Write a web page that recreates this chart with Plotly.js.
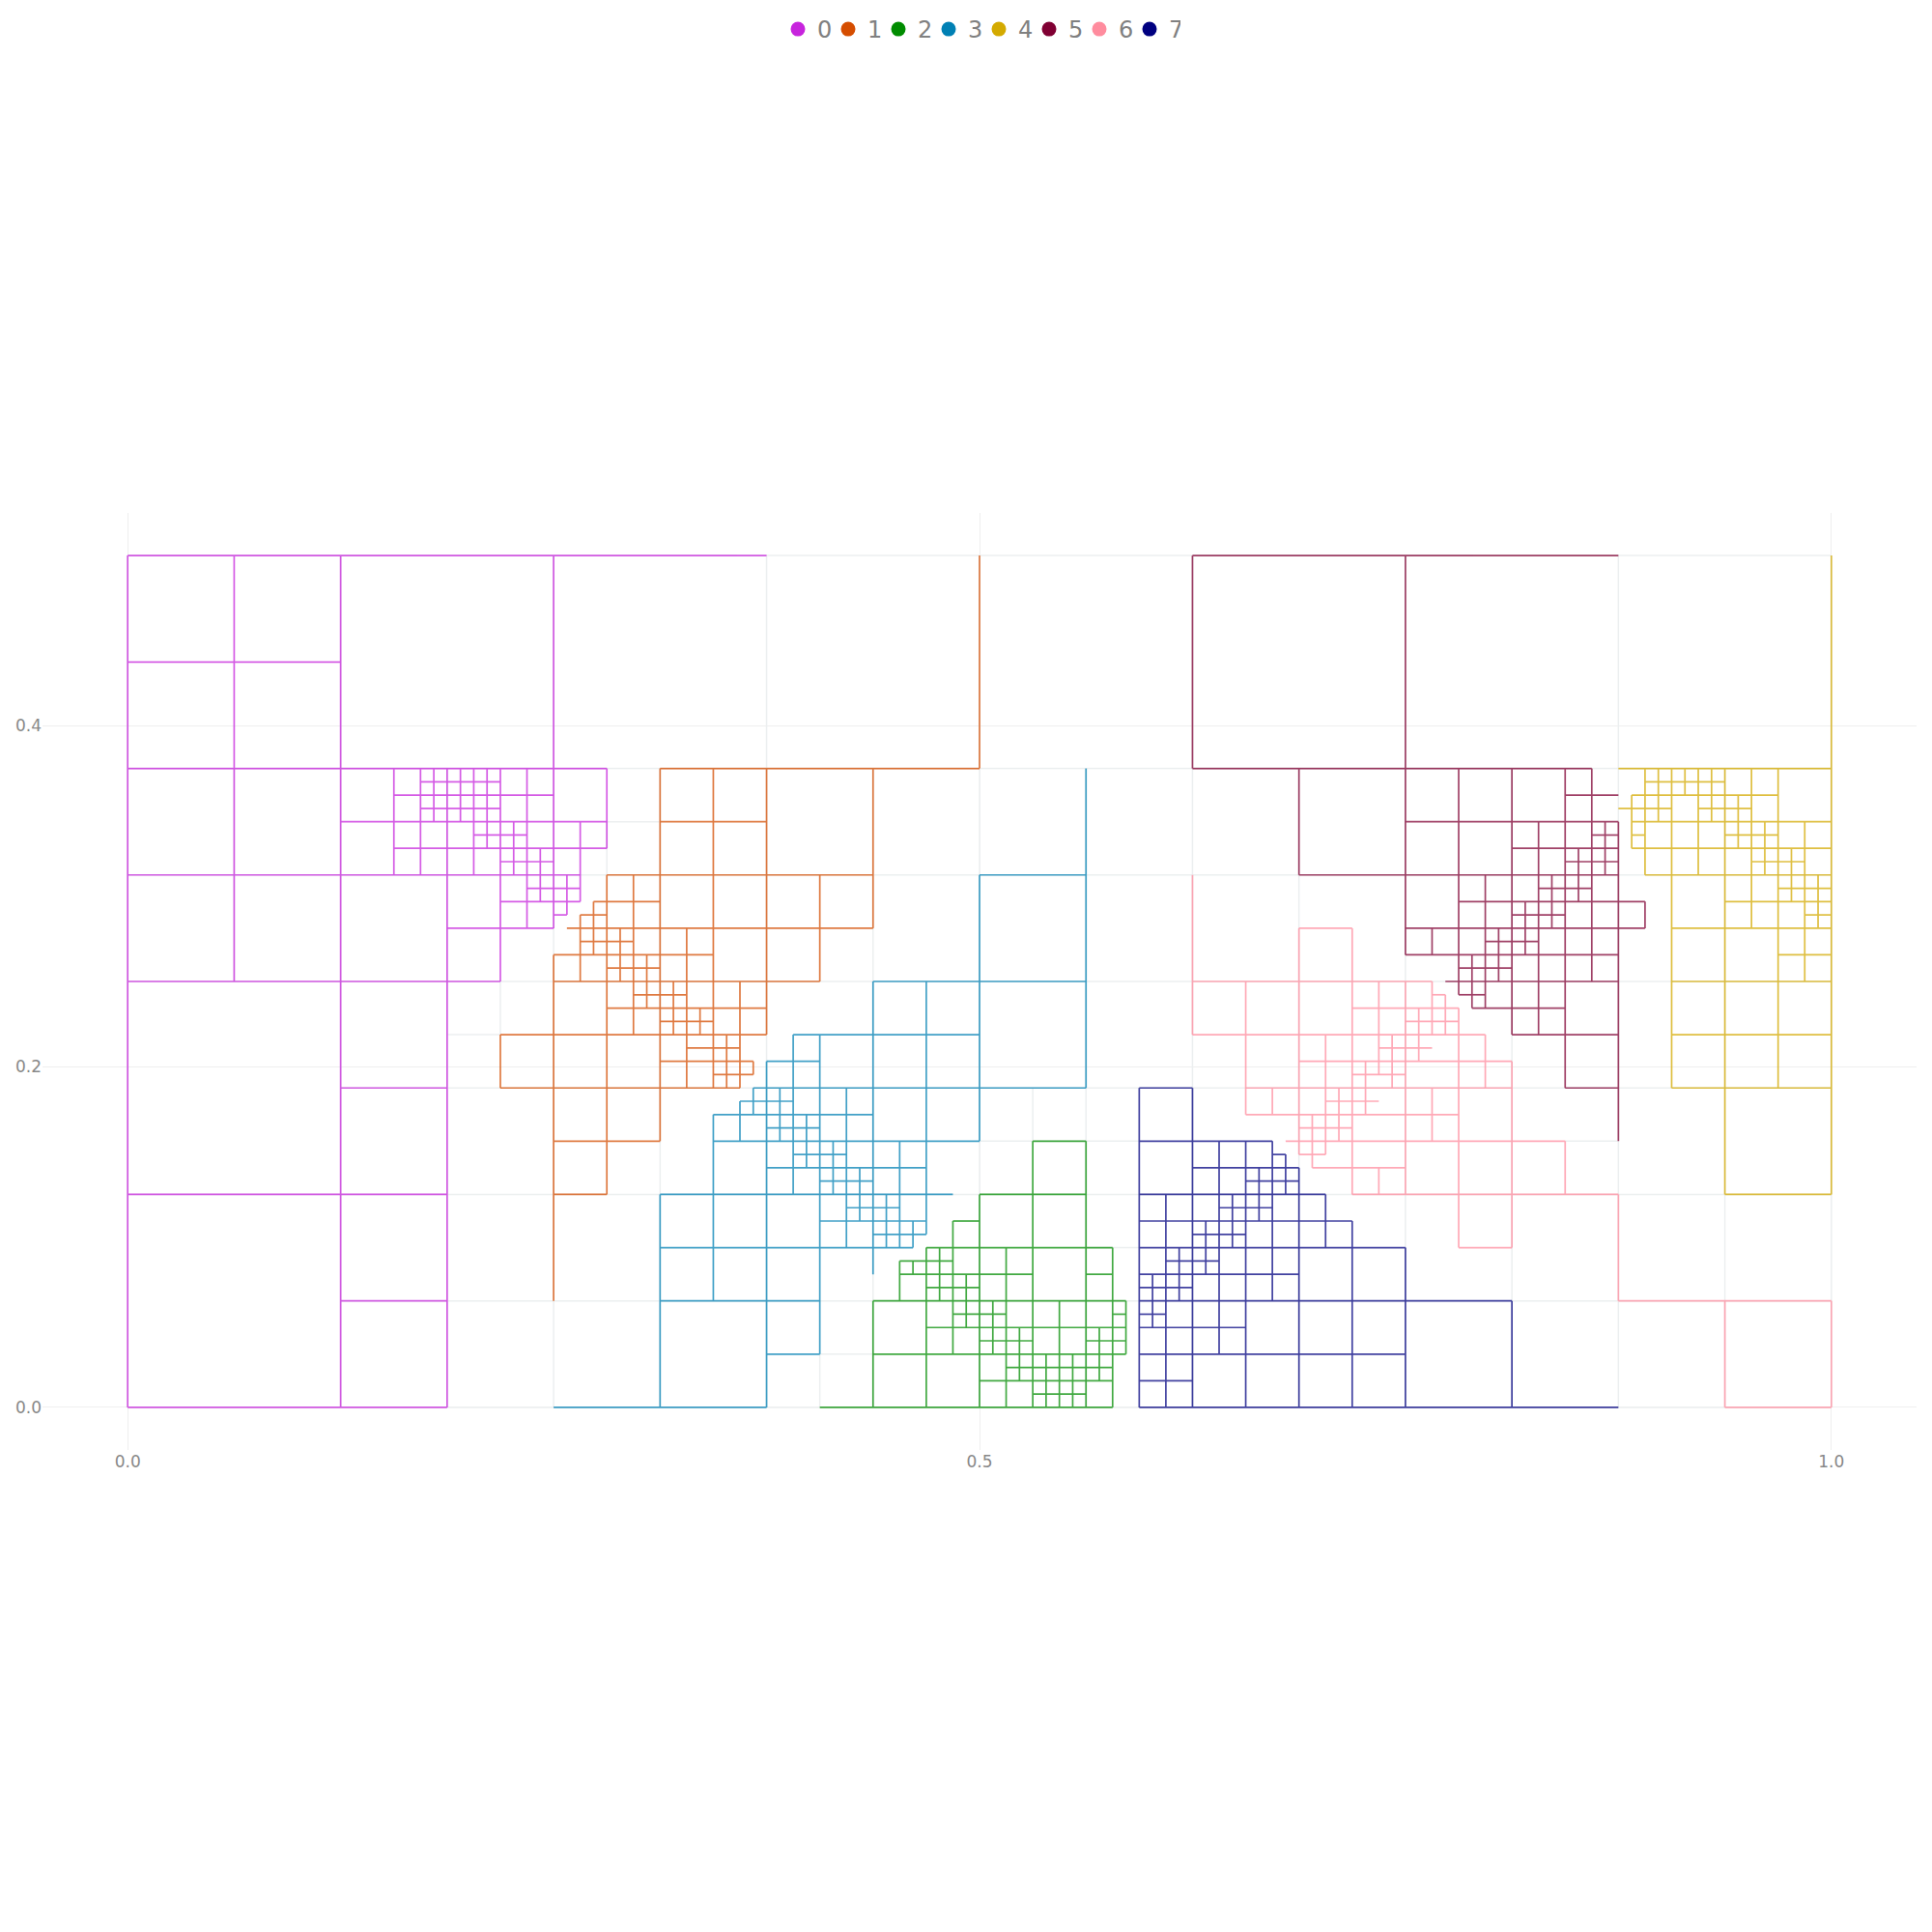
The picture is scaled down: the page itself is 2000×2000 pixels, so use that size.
<!DOCTYPE html>
<html>
<head>
<meta charset="utf-8">
<script src="https://cdn.plot.ly/plotly-3.0.1.min.js"></script>
<style>html,body{margin:0;padding:0;background:#fff;}#chart{width:2000px;height:2000px;}</style>
</head>
<body>
<div id="chart"></div>
<script>
// All coordinates are in units of 1/128 of the x extent (domain is 128 x 64 units).
const UNIT = 128;
const partitionNames = ['0','1','2','3','4','5','6','7'];
const partitionColors = ['#c724dd','#d54d00','#008c00','#0080b4','#d4aa00','#800033','#ff8c9e','#000080'];

// Horizontal segments: [y, x0, x1]; vertical segments: [x, y0, y1]
const p0H = [[64,0,48],[56,0,16],[48,0,36],[47,22,28],[46,20,32],[45,22,28],[44,16,36],[43,26,30],[42,20,36],[41,28,32],[40,0,34],[39,30,34],[38,28,34],[37,32,33],[36,24,32],[32,0,28],[24,16,24],[16,0,24],[8,16,24],[0,0,24]];
const p0V = [[0,0,64],[8,32,64],[16,0,64],[20,40,48],[22,40,48],[23,44,48],[24,0,48],[25,44,48],[26,40,48],[27,42,48],[28,32,48],[29,40,44],[30,36,48],[31,38,42],[32,36,64],[33,37,40],[34,38,44],[36,42,48]];

const p1H = [[48,40,64],[44,40,48],[40,36,56],[38,35,40],[37,34,36],[36,33,56],[35,34,38],[34,32,44],[33,36,40],[32,32,52],[31,38,42],[30,36,48],[29,40,44],[28,28,48],[27,42,46],[26,40,47],[25,44,47],[24,28,46],[20,32,40],[16,32,36]];
const p1V = [[28,24,28],[32,8,34],[34,32,37],[35,34,38],[36,16,40],[37,32,36],[38,28,40],[39,30,34],[40,20,48],[41,28,32],[42,24,36],[43,28,30],[44,24,48],[45,24,28],[46,24,32],[47,25,26],[48,28,48],[52,32,40],[56,36,48],[64,48,64]];

const p2H = [[20,68,72],[16,64,72],[14,62,64],[12,60,74],[11,58,62],[10,58,68],[10,72,74],[9,60,64],[8,56,75],[7,62,66],[7,74,75],[6,60,75],[5,64,68],[5,72,75],[4,56,75],[3,66,74],[2,64,74],[1,68,72],[0,52,74]];
const p2V = [[56,0,8],[58,8,11],[59,10,11],[60,0,12],[61,8,12],[62,4,14],[63,6,10],[64,0,16],[65,4,8],[66,0,12],[67,2,6],[68,0,20],[69,0,4],[70,0,8],[71,0,4],[72,0,20],[73,2,6],[74,0,12],[75,4,8]];

const p3H = [[40,64,72],[32,56,72],[28,50,64],[26,48,52],[24,47,72],[23,46,50],[22,44,56],[21,48,52],[20,44,64],[19,50,54],[18,48,60],[17,52,56],[16,40,62],[15,54,58],[14,52,60],[13,56,60],[12,40,59],[8,40,52],[4,48,52],[0,32,48]];
const p3V = [[40,0,16],[44,8,22],[46,20,23],[47,22,24],[48,0,26],[49,20,24],[50,16,28],[51,18,22],[52,4,28],[53,16,20],[54,12,24],[55,14,18],[56,10,32],[57,12,16],[58,12,20],[59,12,14],[60,13,32],[64,20,40],[72,24,48]];

const p4H = [[48,112,128],[47,114,120],[46,113,124],[45,112,116],[45,118,122],[44,113,128],[43,113,114],[43,120,124],[42,113,128],[41,122,126],[40,114,128],[39,124,128],[38,120,128],[37,126,128],[36,116,128],[34,124,128],[32,116,128],[28,116,128],[24,116,128],[16,120,128]];
const p4V = [[113,42,46],[114,40,48],[115,44,48],[116,24,48],[117,46,48],[118,40,48],[119,44,48],[120,16,48],[121,42,46],[122,36,48],[123,40,44],[124,24,48],[125,38,42],[126,32,44],[127,36,40],[128,16,64]];

const p5H = [[64,80,112],[48,80,110],[46,108,112],[44,96,112],[43,110,112],[42,104,112],[41,108,112],[40,88,112],[39,106,110],[38,100,114],[37,104,108],[36,96,114],[35,102,106],[34,96,112],[33,100,104],[32,99,112],[31,100,102],[30,101,108],[28,104,112],[24,108,112]];
const p5V = [[80,48,64],[88,40,48],[96,34,64],[98,34,36],[100,31,48],[101,30,34],[102,30,40],[103,32,36],[104,28,48],[105,34,38],[106,28,44],[107,36,40],[108,24,48],[109,38,42],[110,32,48],[111,40,44],[112,20,44],[114,36,38]];

const p6H = [[36,88,92],[32,80,98],[31,98,99],[30,92,100],[29,96,100],[28,80,102],[27,94,98],[26,88,104],[25,92,96],[24,84,104],[23,90,94],[22,84,100],[21,88,92],[20,87,108],[19,88,90],[18,89,96],[16,92,112],[12,100,104],[8,112,128],[0,120,128]];
const p6V = [[80,28,40],[84,22,32],[86,22,24],[88,19,36],[89,18,22],[90,19,28],[91,20,24],[92,16,36],[93,22,26],[94,25,32],[94,16,18],[95,24,28],[96,16,32],[97,26,30],[98,28,32],[98,20,24],[99,28,31],[100,12,30],[102,24,28],[104,12,26],[108,16,20],[112,8,16],[120,0,8],[128,0,8]];

const p7H = [[24,76,80],[20,76,86],[19,86,87],[18,80,88],[17,84,88],[16,76,90],[15,82,86],[14,76,92],[13,80,84],[12,76,96],[11,78,82],[10,76,88],[9,76,80],[8,76,104],[7,76,78],[6,76,84],[4,76,96],[2,76,80],[0,76,112]];
const p7V = [[76,0,24],[77,6,10],[78,0,16],[79,8,12],[80,0,24],[81,10,14],[82,4,20],[83,12,16],[84,0,20],[85,14,18],[86,8,20],[87,16,19],[88,0,18],[90,12,16],[92,0,14],[96,0,12],[104,0,8]];

// Faint mesh lines (cells not outlined by any partition)
const meshH = [[64,0,128],[48,0,128],[40,0,128],[32,0,128],[24,16,128],[16,0,128],[8,16,128],[0,0,128],[44,36,40],[28,24,28],[20,64,76],[4,52,56],[12,72,76],[20,108,112]];
const meshV = [[0,0,64],[16,0,64],[32,0,64],[48,0,64],[64,0,64],[80,0,64],[96,0,64],[112,0,64],[128,0,64],[8,32,48],[24,0,48],[40,0,48],[56,0,48],[72,0,48],[88,0,48],[104,0,48],[120,0,48],[28,28,32],[36,40,44],[52,0,4],[68,20,24]];

const partitionH = [p0H,p1H,p2H,p3H,p4H,p5H,p6H,p7H];
const partitionV = [p0V,p1V,p2V,p3V,p4V,p5V,p6V,p7V];

function segs(hs, vs){
  const xs = [], ys = [];
  hs.forEach(([y,x0,x1]) => { xs.push(x0/UNIT, x1/UNIT, null); ys.push(y/UNIT, y/UNIT, null); });
  vs.forEach(([x,y0,y1]) => { xs.push(x/UNIT, x/UNIT, null); ys.push(y0/UNIT, y1/UNIT, null); });
  return {xs, ys};
}

const traces = [];
const m = segs(meshH, meshV);
traces.push({x:m.xs, y:m.ys, mode:'lines', type:'scatter', line:{color:'#eceff0', width:1.5}, hoverinfo:'skip', showlegend:false});

partitionNames.forEach((n,i) => {
  const s = segs(partitionH[i], partitionV[i]);
  traces.push({x:s.xs, y:s.ys, mode:'lines', type:'scatter', name:n, legendgroup:n,
    line:{color:partitionColors[i], width:1.7}, opacity:0.74, showlegend:false, hoverinfo:'skip'});
});
partitionNames.forEach((n,i) => {
  traces.push({x:[null], y:[null], mode:'markers', type:'scatter', name:n, legendgroup:n,
    marker:{color:partitionColors[i], size:15}, showlegend:true});
});

const axisCommon = {
  showgrid:true, gridcolor:'#efefef', gridwidth:1,
  zeroline:true, zerolinecolor:'#efefef', zerolinewidth:1,
  showline:false, ticks:'', tickformat:'.1f',
  tickfont:{size:17, color:'#888888', family:'DejaVu Sans, sans-serif'}
};

const layout = {
  width:2000, height:2000,
  margin:{l:44, r:16, t:531, b:499, pad:0},
  paper_bgcolor:'#ffffff', plot_bgcolor:'#ffffff',
  font:{family:'DejaVu Sans, sans-serif', color:'#808080'},
  xaxis:Object.assign({}, axisCommon, {range:[-0.05,1.05], tick0:0, dtick:0.5}),
  yaxis:Object.assign({}, axisCommon, {range:[-0.025,0.525], tick0:0, dtick:0.2}),
  showlegend:true,
  legend:{orientation:'h', x:0.5, xanchor:'center', yref:'container', y:0.996, yanchor:'top',
    font:{size:24, color:'#808080', family:'DejaVu Sans, sans-serif'}, itemwidth:30,
    entrywidth:7, entrywidthmode:'pixels', bgcolor:'rgba(0,0,0,0)', traceorder:'normal'}
};

Plotly.newPlot('chart', traces, layout, {displayModeBar:false, staticPlot:true});
</script>
</body>
</html>
